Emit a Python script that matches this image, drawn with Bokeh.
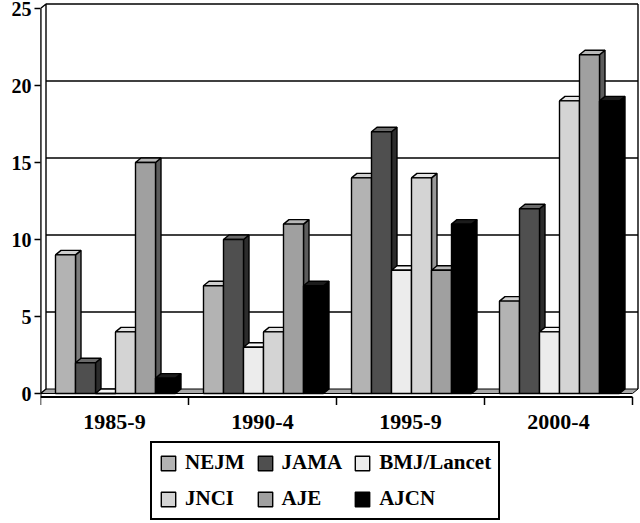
from bokeh.plotting import figure
from bokeh.models import Range1d, FixedTicker, Legend, LegendItem, LinearAxis
from bokeh.core.properties import value
from bokeh.embed import file_html
from bokeh.resources import INLINE

# ---- data ----
categories = ["1985-9", "1990-4", "1995-9", "2000-4"]
journals = ["NEJM", "JAMA", "BMJ/Lancet", "JNCI", "AJE", "AJCN"]
nejm = [9, 7, 14, 6]
jama = [2, 10, 17, 12]
bmj_lancet = [0, 3, 8, 4]
jnci = [4, 4, 14, 19]
aje = [15, 11, 8, 22]
ajcn = [1, 7, 11, 19]
yticks = [0, 5, 10, 15, 20, 25]
series = [nejm, jama, bmj_lancet, jnci, aje, ajcn]

# ---- styles ----
FONT = "Liberation Serif"
front_col = ["#b3b3b3", "#4f4f4f", "#ececec", "#d4d4d4", "#a0a0a0", "#000000"]
top_col = ["#cfcfcf", "#6a6a6a", "#f6f6f6", "#e4e4e4", "#b8b8b8", "#1c1c1c"]
side_col = ["#7c7c7c", "#2c2c2c", "#bcbcbc", "#989898", "#5c5c5c", "#000000"]
ncat = len(categories)
PXX = 148.0  # pixels per category
PXY = 15.4   # pixels per y unit
DX = 5.5 / PXX
DY = 4.5 / PXY
OFF = 15 / PXX
BW = 20 / PXX
YMAX = 25
AX_Y = -3.5 / PXY          # front floor edge / x-axis line
TICK_Y = AX_Y - 8 / PXY    # bottom of category ticks
LAB_Y = -28 / PXY          # category label centre

p = figure(width=640, height=523, output_backend="svg", toolbar_location=None,
           x_range=Range1d(0, 600 / PXX), y_range=Range1d(-130 / PXY, 393 / PXY),
           x_axis_location=None, y_axis_location=None,
           min_border_left=40, min_border_right=0, min_border_top=0,
           min_border_bottom=0)
p.xgrid.visible = False
p.ygrid.visible = False
p.outline_line_color = None
p.background_fill_color = "white"
p.border_fill_color = "white"

# floor
p.patch([0, ncat, ncat + DX, DX], [0, 0, DY, DY], fill_color="#a8a8a8",
        line_color="black", line_width=1)
# left wall
p.patch([0, DX, DX, 0], [0, DY, YMAX + DY, YMAX], fill_color="white",
        line_color="black", line_width=1.4)
# back wall grid lines and frame
gv = [t + DY for t in yticks[1:]]
p.segment(x0=[DX] * len(gv), x1=[ncat + DX] * len(gv), y0=gv, y1=gv,
          line_color="black", line_width=1.4)
p.segment(x0=[ncat + DX], x1=[ncat + DX], y0=[DY], y1=[YMAX + DY],
          line_color="black", line_width=1.4)

renderers = []
for i, vals in enumerate(series):
    L = [c + OFF + i * BW for c in range(ncat)]
    R = [l + BW for l in L]
    sx = [[r, r + DX, r + DX, r] for r in R]
    sy = [[0, DY, v + DY, v] for v in vals]
    tx = [[l, l + DX, r + DX, r] for l, r in zip(L, R)]
    ty = [[v, v + DY, v + DY, v] for v in vals]
    p.patches(sx, sy, fill_color=side_col[i], line_color="black", line_width=1.4)
    p.patches(tx, ty, fill_color=top_col[i], line_color="black", line_width=1.4)
    r = p.quad(left=L, right=R, bottom=[0] * ncat, top=vals,
               fill_color=front_col[i], line_color="black", line_width=1.4)
    renderers.append(r)

# y axis (ticks + labels from Bokeh, line drawn to match the chart area)
yaxis = LinearAxis(ticker=FixedTicker(ticks=yticks))
yaxis.major_label_text_font = FONT
yaxis.major_label_text_font_style = "bold"
yaxis.major_label_text_font_size = "20px"
yaxis.major_label_text_color = "black"
yaxis.major_tick_out = 6
yaxis.major_tick_in = 0
yaxis.minor_tick_out = 0
yaxis.minor_tick_in = 0
yaxis.axis_line_color = None
yaxis.major_tick_line_width = 1.5
yaxis.major_label_standoff = 3
p.add_layout(yaxis, "left")
p.segment(x0=[0], x1=[0], y0=[AX_Y], y1=[YMAX], line_color="black", line_width=2)

# x axis drawn in data space
p.segment(x0=[0], x1=[ncat], y0=[AX_Y], y1=[AX_Y], line_color="black", line_width=2)
bounds = list(range(ncat + 1))
p.segment(x0=bounds, x1=bounds, y0=[AX_Y] * len(bounds), y1=[TICK_Y] * len(bounds),
          line_color="black", line_width=1.5)
centers = [c + 0.5 for c in range(ncat)]
p.text(x=centers, y=[LAB_Y] * ncat, text=categories, text_font=value(FONT),
       text_font_style="bold", text_font_size="22px", text_color="black",
       text_align="center", text_baseline="middle")

legend = Legend(items=[LegendItem(label=j, renderers=[r]) for j, r in zip(journals, renderers)],
                orientation="horizontal", ncols=3, location=(110, 3))
legend.label_text_font = FONT
legend.label_text_font_style = "bold"
legend.label_text_font_size = "21px"
legend.label_text_color = "black"
legend.glyph_width = 18
legend.glyph_height = 18
legend.label_standoff = 8
legend.spacing = 11
legend.padding = 7
legend.margin = 0
legend.border_line_color = "black"
legend.border_line_alpha = 1
legend.border_line_width = 2
legend.background_fill_alpha = 1
p.add_layout(legend, "center")

open("out.html", "w").write(file_html(p, INLINE))
